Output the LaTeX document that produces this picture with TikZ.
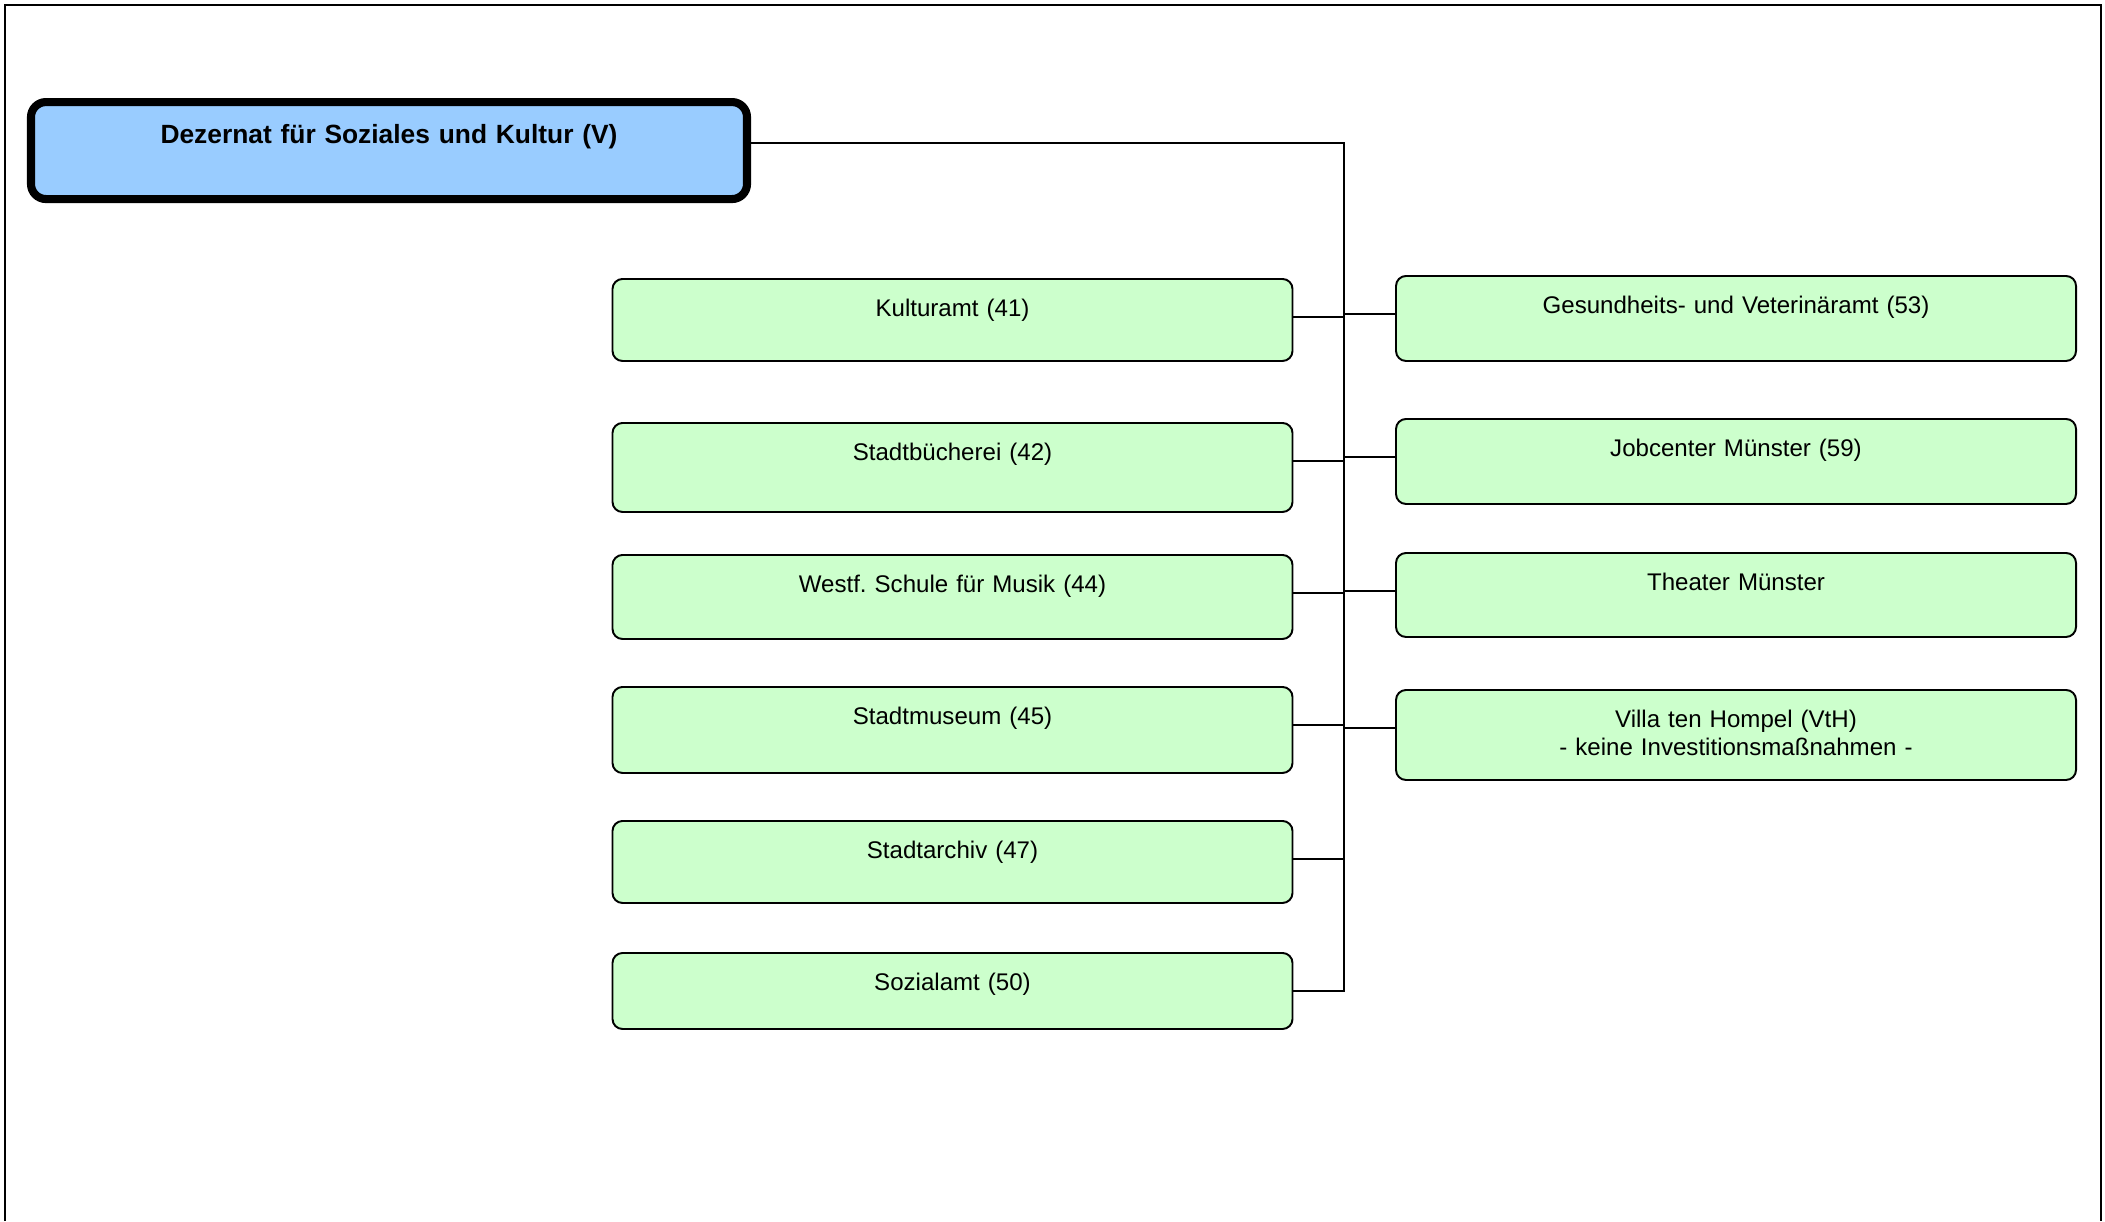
\documentclass[tikz,border=0pt]{standalone}
\usepackage{fontspec}
\setmainfont{Liberation Sans}
\definecolor{dezblue}{HTML}{99CCFF}
\definecolor{amtgreen}{HTML}{CCFFCC}

\begin{document}
\begin{tikzpicture}[
  font=\fontsize{6.85}{7.9}\selectfont,
  dezernat/.style = {draw=black, fill=dezblue, line width=2.3pt, rounded corners=0.15cm,
                     text width=7.16cm, align=center, inner sep=0pt,
                     text height=0.41cm, text depth=0.56cm,
                     font=\fontsize{7.5}{9}\selectfont\bfseries},
  amt/.style      = {draw=black, fill=amtgreen, line width=0.55pt, rounded corners=0.1cm,
                     text width=6.8cm, align=center, inner sep=0pt,
                     text height=0.38cm, text depth=#1},
  link/.style     = {draw=black, line width=0.5pt},
  rahmen/.style   = {draw=black, line width=0.6pt},
]

\useasboundingbox (0,0) rectangle (21.05,-12.21);

\def\cl{9.525}   % column x: Aemter links
\def\cr{17.36}   % column x: Aemter rechts

% ---- frame -----------------------------------------------------------------
\draw[rahmen] (0.05,-12.21) -- (0.05,-0.05) -- (21.01,-0.05) -- (21.01,-12.21);

% ---- dezernat --------------------------------------------------------------
\node[dezernat, anchor=north] (dez) at (3.89,-0.98) {Dezernat für Soziales und Kultur (V)};

% ---- left column -----------------------------------------------------------
\node[amt=0.44cm, anchor=north] (kultur)    at (\cl,-2.78) {Kulturamt (41)};
\node[amt=0.51cm, anchor=north] (buecherei) at (\cl,-4.22) {Stadtbücherei (42)};
\node[amt=0.46cm, anchor=north] (musik)     at (\cl,-5.54) {Westf.\ Schule für Musik (44)};
\node[amt=0.48cm, anchor=north] (museum)    at (\cl,-6.86) {Stadtmuseum (45)};
\node[amt=0.44cm, anchor=north] (archiv)    at (\cl,-8.20) {Stadtarchiv (47)};
\node[amt=0.38cm, anchor=north] (sozial)    at (\cl,-9.52) {Sozialamt (50)};

% ---- right column ----------------------------------------------------------
\node[amt=0.47cm, anchor=north] (gesund)    at (\cr,-2.75) {Gesundheits- und Veterinäramt (53)};
\node[amt=0.47cm, anchor=north] (jobcenter) at (\cr,-4.18) {Jobcenter Münster (59)};
\node[amt=0.46cm, anchor=north] (theater)   at (\cr,-5.52) {Theater Münster};
\node[amt=0.52cm, anchor=north] (villa)     at (\cr,-6.89) {Villa ten Hompel (VtH)\\- keine Investitionsmaßnahmen -};

% ---- connectors ------------------------------------------------------------
\coordinate (bus) at (13.44,0);

\draw[link] (dez.base east) -- (dez.base east -| bus) -- (sozial.base east -| bus) -- (sozial.base east);
\draw[link] (kultur.base east)    -- (kultur.base east -| bus);
\draw[link] (buecherei.base east) -- (buecherei.base east -| bus);
\draw[link] (musik.base east)     -- (musik.base east -| bus);
\draw[link] (museum.base east)    -- (museum.base east -| bus);
\draw[link] (archiv.base east)    -- (archiv.base east -| bus);
\draw[link] (gesund.base west)    -- (gesund.base west -| bus);
\draw[link] (jobcenter.base west) -- (jobcenter.base west -| bus);
\draw[link] (theater.base west)   -- (theater.base west -| bus);
\draw[link] (villa.base west)     -- (villa.base west -| bus);

\end{tikzpicture}
\end{document}
